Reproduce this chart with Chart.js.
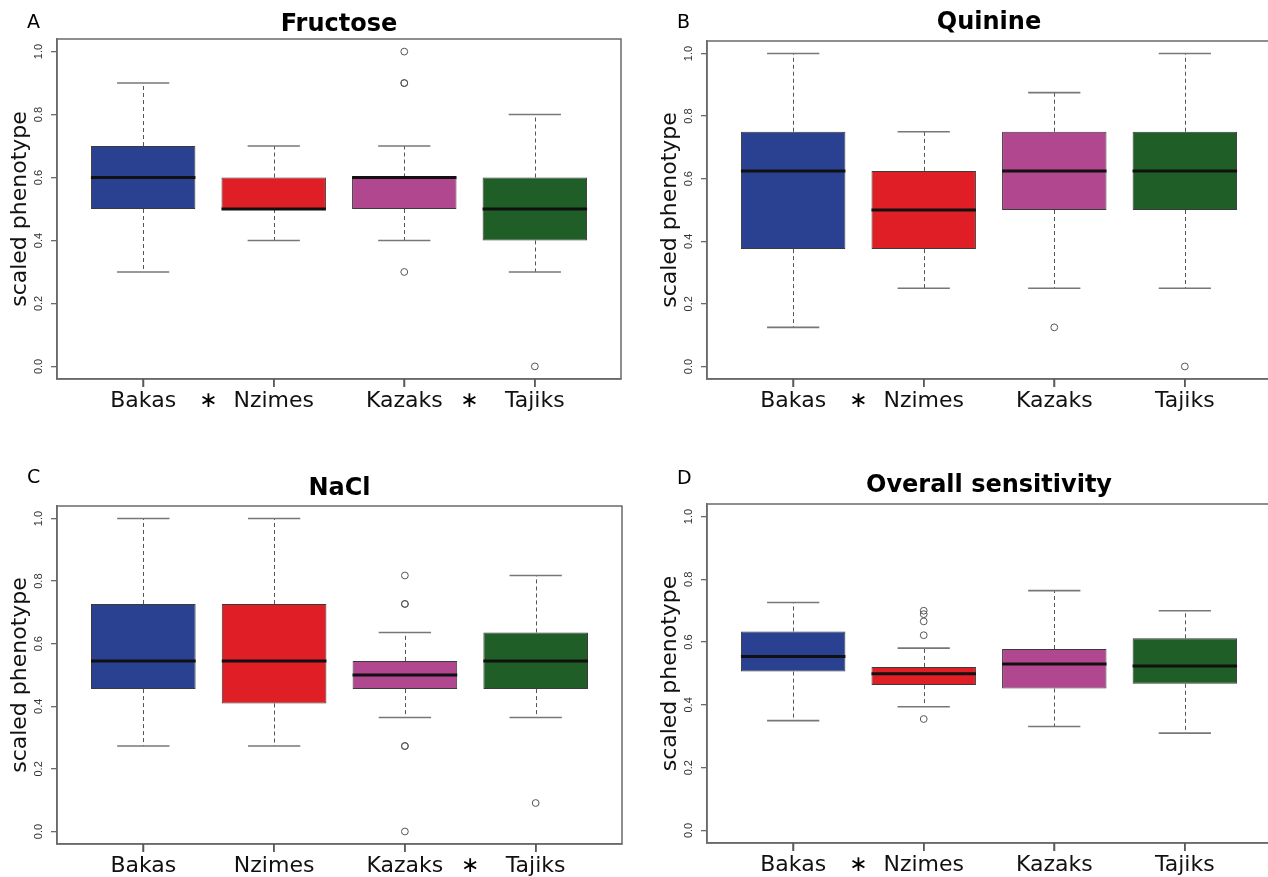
<!DOCTYPE html>
<html>
<head>
<meta charset="utf-8">
<title>Taste sensitivity by population</title>
<script src="https://cdn.jsdelivr.net/npm/chart.js@4.4.1/dist/chart.umd.min.js"></script>
<style>
    html, body { margin: 0; padding: 0; background: #fff; overflow: hidden; width: 1268px; height: 877px; }
    .panel { position: absolute; }
</style>
</head>
<body>
<div class="panel" id="wrapA" style="left:0px;top:0px;width:634px;height:438px"><canvas id="chartA"></canvas></div>
<div class="panel" id="wrapB" style="left:650px;top:0px;width:634px;height:438px"><canvas id="chartB"></canvas></div>
<div class="panel" id="wrapC" style="left:0px;top:440px;width:634px;height:460px"><canvas id="chartC"></canvas></div>
<div class="panel" id="wrapD" style="left:650px;top:440px;width:634px;height:460px"><canvas id="chartD"></canvas></div>
<script>
// Box plot data (scaled phenotype, 0..1)
const groups = ['Bakas', 'Nzimes', 'Kazaks', 'Tajiks'];
const boxColors = ['#2a4192', '#e01e25', '#b1478f', '#1f5e27'];
const yTicks = [0, 0.2, 0.4, 0.6, 0.8, 1.0];

// A - Fructose
const fructoseLow = [0.3, 0.4, 0.4, 0.3];
const fructoseQ1 = [0.5, 0.5, 0.5, 0.4];
const fructoseMedian = [0.6, 0.5, 0.6, 0.5];
const fructoseQ3 = [0.7, 0.6, 0.6, 0.6];
const fructoseHigh = [0.9, 0.7, 0.7, 0.8];
const fructoseOutliers = [[], [], [0.3, 0.9, 0.9, 1.0], [0.0]];
const fructoseSignif = [['Bakas', 'Nzimes'], ['Kazaks', 'Tajiks']];

// B - Quinine
const quinineLow = [0.125, 0.25, 0.25, 0.25];
const quinineQ1 = [0.375, 0.375, 0.5, 0.5];
const quinineMedian = [0.625, 0.5, 0.625, 0.625];
const quinineQ3 = [0.75, 0.625, 0.75, 0.75];
const quinineHigh = [1.0, 0.75, 0.875, 1.0];
const quinineOutliers = [[], [], [0.125], [0.0]];
const quinineSignif = [['Bakas', 'Nzimes']];

// C - NaCl
const naclLow = [0.273, 0.273, 0.364, 0.364];
const naclQ1 = [0.455, 0.409, 0.455, 0.455];
const naclMedian = [0.545, 0.545, 0.5, 0.545];
const naclQ3 = [0.727, 0.727, 0.545, 0.636];
const naclHigh = [1.0, 1.0, 0.636, 0.818];
const naclOutliers = [[], [], [0.0, 0.273, 0.273, 0.727, 0.727, 0.818], [0.091]];
const naclSignif = [['Kazaks', 'Tajiks']];

// D - Overall sensitivity
const overallLow = [0.35, 0.394, 0.331, 0.31];
const overallQ1 = [0.506, 0.463, 0.452, 0.467];
const overallMedian = [0.554, 0.499, 0.53, 0.524];
const overallQ3 = [0.634, 0.521, 0.578, 0.612];
const overallHigh = [0.726, 0.581, 0.764, 0.70];
const overallOutliers = [[], [0.355, 0.622, 0.666, 0.689, 0.70], [], []];
const overallSignif = [['Bakas', 'Nzimes']];

const FONT = "'DejaVu Sans', sans-serif";
const GRAY = '#6a6a6a';

// whiskers, caps, medians, frame, titles, significance stars
const boxExtras = {
    id: 'boxExtras',
    beforeDatasetsDraw(chart, args, opts) {
        const { ctx } = chart;
        const x = chart.scales.x, y = chart.scales.y;
        const bars = chart.getDatasetMeta(0).data;
        ctx.save();
        ctx.lineWidth = 1;
        ctx.strokeStyle = '#555';
        ctx.setLineDash([4, 3]);
        groups.forEach((g, i) => {
            const px = Math.round(x.getPixelForValue(i + 1)) + 0.5;
            ctx.beginPath();
            ctx.moveTo(px, y.getPixelForValue(opts.q3[i]));
            ctx.lineTo(px, y.getPixelForValue(opts.high[i]));
            ctx.moveTo(px, y.getPixelForValue(opts.q1[i]));
            ctx.lineTo(px, y.getPixelForValue(opts.low[i]));
            ctx.stroke();
        });
        ctx.setLineDash([]);
        ctx.lineWidth = 1.6;
        ctx.strokeStyle = '#777';
        groups.forEach((g, i) => {
            const px = x.getPixelForValue(i + 1);
            const half = bars[i].width / 4;
            [opts.low[i], opts.high[i]].forEach(v => {
                const py = y.getPixelForValue(v);
                ctx.beginPath();
                ctx.moveTo(px - half, py);
                ctx.lineTo(px + half, py);
                ctx.stroke();
            });
        });
        ctx.restore();
    },
    afterDatasetsDraw(chart, args, opts) {
        const { ctx, chartArea } = chart;
        const x = chart.scales.x, y = chart.scales.y;
        const bars = chart.getDatasetMeta(0).data;
        ctx.save();
        // medians
        ctx.lineWidth = 3;
        ctx.strokeStyle = '#111';
        groups.forEach((g, i) => {
            const px = x.getPixelForValue(i + 1);
            const half = bars[i].width / 2;
            const py = y.getPixelForValue(opts.median[i]);
            ctx.beginPath();
            ctx.moveTo(px - half, py);
            ctx.lineTo(px + half, py);
            ctx.stroke();
        });
        // frame
        ctx.lineWidth = 1.5;
        ctx.strokeStyle = GRAY;
        ctx.strokeRect(chartArea.left, chartArea.top, chartArea.right - chartArea.left, chartArea.bottom - chartArea.top);
        // category tick marks below the frame
        ctx.lineWidth = 1.5;
        ctx.strokeStyle = '#555';
        groups.forEach((g, i) => {
            const px = Math.round(x.getPixelForValue(i + 1));
            ctx.beginPath();
            ctx.moveTo(px, chartArea.bottom);
            ctx.lineTo(px, chartArea.bottom + 8);
            ctx.stroke();
        });
        // title and panel letter
        ctx.fillStyle = '#000';
        ctx.textBaseline = 'alphabetic';
        ctx.textAlign = 'center';
        ctx.font = 'bold 24px ' + FONT;
        ctx.fillText(opts.title, (chartArea.left + chartArea.right) / 2, chartArea.top - opts.titleGap);
        ctx.textAlign = 'left';
        ctx.font = '19px ' + FONT;
        ctx.fillText(opts.letter, chartArea.left - 30, chartArea.top - opts.letterGap);
        // significance stars between groups
        ctx.textAlign = 'center';
        ctx.font = '22px ' + FONT;
        opts.signif.forEach(pair => {
            const a = groups.indexOf(pair[0]) + 1, b = groups.indexOf(pair[1]) + 1;
            ctx.fillText('\u2217', x.getPixelForValue((a + b) / 2), chartArea.bottom + 28);
        });
        ctx.restore();
    }
};

function createBoxPlot(canvasId, p) {
    const canvas = document.getElementById(canvasId);
    const outlierPoints = [];
    p.outliers.forEach((list, i) => list.forEach(v => outlierPoints.push({ x: i + 1, y: v })));

    return new Chart(canvas, {
        type: 'bar',
        data: {
            datasets: [{
                label: 'IQR',
                data: groups.map((g, i) => ({ x: i + 1, y: [p.q1[i], p.q3[i]] })),
                backgroundColor: boxColors,
                borderColor: '#3a3a3a',
                borderWidth: 1,
                borderSkipped: false,
                barPercentage: 0.8,
                categoryPercentage: 1.0,
            }, {
                type: 'scatter',
                label: 'outliers',
                data: outlierPoints,
                pointStyle: 'circle',
                pointRadius: 3.4,
                backgroundColor: 'rgba(0,0,0,0)',
                borderColor: '#555',
                borderWidth: 1,
            }],
        },
        options: {
            responsive: true,
            maintainAspectRatio: false,
            animation: false,
            layout: { padding: { top: p.padTop, right: p.padRight, bottom: 0, left: 0 } },
            plugins: {
                legend: { display: false },
                tooltip: { enabled: false },
                boxExtras: {
                    title: p.title, letter: p.letter, titleGap: p.titleGap, letterGap: p.letterGap,
                    low: p.low, q1: p.q1, median: p.median, q3: p.q3, high: p.high, signif: p.signif,
                },
            },
            scales: {
                x: {
                    type: 'linear',
                    min: 0.34,
                    max: 4.66,
                    offset: false,
                    afterBuildTicks: s => { s.ticks = groups.map((g, i) => ({ value: i + 1 })); },
                    afterFit: s => { s.height = p.axisH; },
                    grid: { offset: false, drawOnChartArea: false, drawTicks: true, tickLength: 8, color: GRAY, lineWidth: 1.3 },
                    border: { display: true, color: GRAY, width: 1.5 },
                    ticks: {
                        autoSkip: false,
                        maxRotation: 0,
                        padding: 1,
                        color: '#111',
                        font: { family: FONT, size: 22 },
                        callback: v => groups[v - 1] || '',
                    },
                },
                y: {
                    min: -0.04,
                    max: 1.04,
                    afterBuildTicks: s => { s.ticks = yTicks.map(v => ({ value: v })); },
                    afterFit: s => { s.width = 57; },
                    grid: { drawOnChartArea: false, drawTicks: true, tickLength: 6, color: GRAY, lineWidth: 1.3 },
                    border: { display: true, color: GRAY, width: 1.5 },
                    ticks: {
                        minRotation: 90,
                        maxRotation: 90,
                        crossAlign: 'center',
                        padding: 4,
                        color: '#333',
                        font: { family: "'Liberation Sans', Arial, sans-serif", size: 11 },
                        callback: v => v.toFixed(1),
                    },
                    title: {
                        display: true,
                        text: 'scaled phenotype',
                        color: '#111',
                        font: { family: FONT, size: 22 },
                        padding: { top: 7, bottom: 0 },
                    },
                },
            },
        },
        plugins: [boxExtras],
    });
}

createBoxPlot('chartA', {
    title: 'Fructose', letter: 'A', padTop: 39, padRight: 13, axisH: 59, titleGap: 8, letterGap: 11,
    low: fructoseLow, q1: fructoseQ1, median: fructoseMedian, q3: fructoseQ3, high: fructoseHigh,
    outliers: fructoseOutliers, signif: fructoseSignif,
});
createBoxPlot('chartB', {
    title: 'Quinine', letter: 'B', padTop: 41, padRight: 13, axisH: 59, titleGap: 12, letterGap: 13,
    low: quinineLow, q1: quinineQ1, median: quinineMedian, q3: quinineQ3, high: quinineHigh,
    outliers: quinineOutliers, signif: quinineSignif,
});
createBoxPlot('chartC', {
    title: 'NaCl', letter: 'C', padTop: 66, padRight: 12, axisH: 56, titleGap: 11, letterGap: 23,
    low: naclLow, q1: naclQ1, median: naclMedian, q3: naclQ3, high: naclHigh,
    outliers: naclOutliers, signif: naclSignif,
});
createBoxPlot('chartD', {
    title: 'Overall sensitivity', letter: 'D', padTop: 64, padRight: 13, axisH: 57, titleGap: 12, letterGap: 20,
    low: overallLow, q1: overallQ1, median: overallMedian, q3: overallQ3, high: overallHigh,
    outliers: overallOutliers, signif: overallSignif,
});
</script>
</body>
</html>
